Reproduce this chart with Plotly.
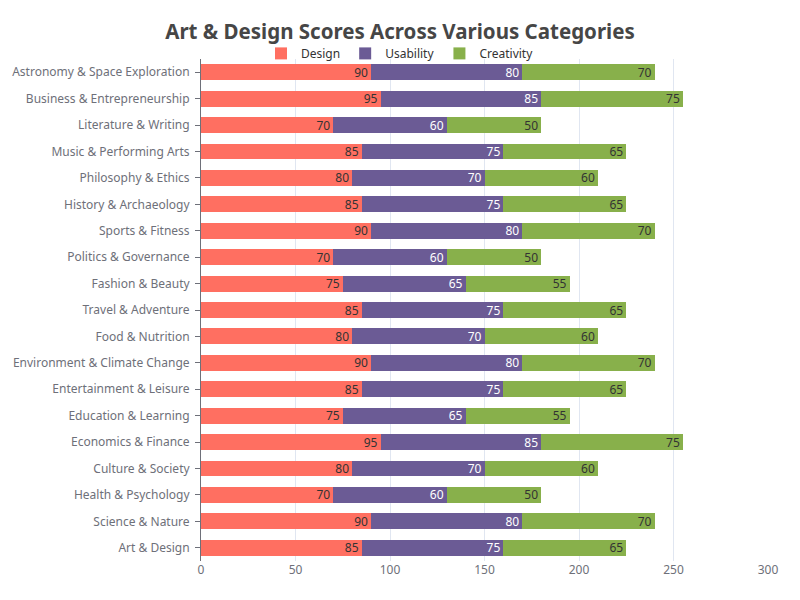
import plotly.graph_objects as go

categories = [
    "Art & Design", "Science & Nature", "Health & Psychology", "Culture & Society",
    "Economics & Finance", "Education & Learning", "Entertainment & Leisure",
    "Environment & Climate Change", "Food & Nutrition", "Travel & Adventure",
    "Fashion & Beauty", "Politics & Governance", "Sports & Fitness",
    "History & Archaeology", "Philosophy & Ethics", "Music & Performing Arts",
    "Literature & Writing", "Business & Entrepreneurship", "Astronomy & Space Exploration",
]
design = [85, 90, 70, 80, 95, 75, 85, 90, 80, 85, 75, 70, 90, 85, 80, 85, 70, 95, 90]
usability = [75, 80, 60, 70, 85, 65, 75, 80, 70, 75, 65, 60, 80, 75, 70, 75, 60, 85, 80]
creativity = [65, 70, 50, 60, 75, 55, 65, 70, 60, 65, 55, 50, 70, 65, 60, 65, 50, 75, 70]
x_ticks = [0, 50, 100, 150, 200, 250, 300]

series = [
    ("Design", design, "#FF6F61", "#333333"),
    ("Usability", usability, "#6B5B95", "#FFFFFF"),
    ("Creativity", creativity, "#88B04B", "#333333"),
]

fig = go.Figure()
for name, vals, color, tcolor in series:
    fig.add_trace(go.Bar(
        y=categories, x=vals, name=name, orientation="h",
        marker=dict(color=color, line=dict(width=0)),
        text=vals, textposition="inside", insidetextanchor="end", textangle=0,
        insidetextfont=dict(color=tcolor, size=12),
        constraintext="none", cliponaxis=False,
    ))

fig.update_layout(
    barmode="stack",
    bargap=0.4,
    width=800, height=600,
    margin=dict(l=201, r=32, t=59, b=39, autoexpand=False),
    paper_bgcolor="white", plot_bgcolor="white",
    font=dict(family="Noto Sans, Open Sans, sans-serif", color="#6E7079", size=12),
    title=dict(text="<b>Art & Design Scores Across Various Categories</b>",
               x=0.5, xanchor="center", y=0.947, yanchor="middle",
               font=dict(size=20.5, color="#464646")),
    legend=dict(orientation="h", x=0.5, xanchor="center", xref="container",
                y=0.911, yanchor="middle", yref="container",
                bgcolor="rgba(0,0,0,0)", font=dict(size=12, color="#333333"),
                itemwidth=30, traceorder="normal"),
    xaxis=dict(range=[0, 300], tickvals=x_ticks, showgrid=True, gridcolor="#E0E6F1",
               gridwidth=1, zeroline=False, showline=False, ticks="",
               automargin=False,
               tickfont=dict(color="#6E7079", size=12)),
    yaxis=dict(categoryorder="array", categoryarray=categories, showgrid=False,
               showline=True, linecolor="#6E7079", linewidth=1,
               ticks="outside", ticklen=5, tickcolor="#6E7079", automargin=False,
               tickfont=dict(color="#6E7079", size=12), ticklabelstandoff=3),
)

fig.write_html("out.html", config={"displayModeBar": False},
               post_script="document.body.style.margin='0';")
